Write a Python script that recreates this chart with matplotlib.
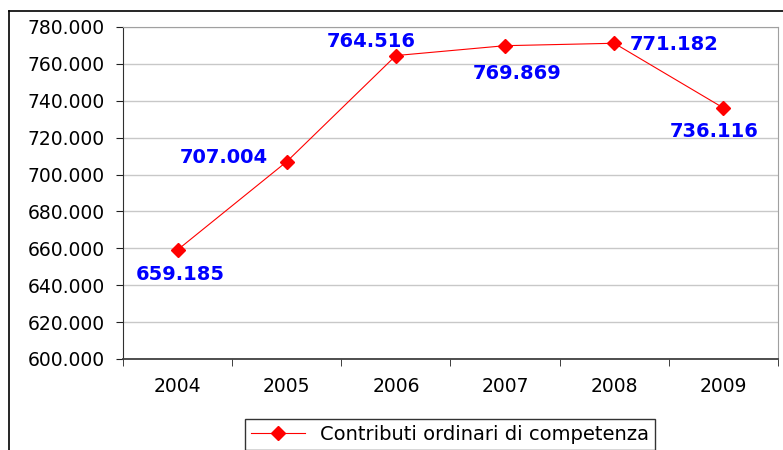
import matplotlib
matplotlib.use('Agg')
import matplotlib.pyplot as plt
from matplotlib.lines import Line2D
from matplotlib.ticker import FuncFormatter

years = ['2004', '2005', '2006', '2007', '2008', '2009']
values = [659185, 707004, 764516, 769869, 771182, 736116]
series_name = 'Contributi ordinari di competenza'
# label offsets in pixels from each point
label_offsets = [(3, -25), (-63, 4), (-25, 14), (12, -28), (60, -1), (-9, -24)]


def it_fmt(v, pos=None):
    return f"{int(round(v)):,}".replace(',', '.')


plt.rcParams['font.family'] = 'DejaVu Sans'

fig = plt.figure(figsize=(7.83, 4.5), dpi=100)
ax = fig.add_axes([123 / 783, 91 / 450, 655 / 783, 332 / 450])

x = list(range(len(years)))
ax.plot(x, values, color='#ff0000', linewidth=0.8, marker='D', markersize=7,
        label=series_name)

for xi, v, (dx, dy) in zip(x, values, label_offsets):
    ax.annotate(it_fmt(v), (xi, v), xytext=(dx, dy), textcoords='offset pixels',
                ha='center', va='center', fontsize=14, fontweight='bold',
                color='#0000ff')

ax.set_ylim(600000, 780000)
ax.set_yticks(range(600000, 780001, 20000))
ax.yaxis.set_major_formatter(FuncFormatter(it_fmt))
ax.set_xlim(-0.5, len(years) - 0.5)
ax.set_xticks(x)
ax.set_xticklabels(years)
ax.set_xticks([i - 0.5 for i in range(len(years) + 1)], minor=True)
ax.tick_params(axis='x', which='major', length=0, pad=13, labelsize=13.5)
ax.tick_params(axis='x', which='minor', length=5, direction='out', color='#202020')
ax.tick_params(axis='y', length=5, direction='out', pad=8, labelsize=13.5, color='#202020')

ax.grid(axis='y', color='#c8c8c8', linewidth=1)
ax.set_axisbelow(True)
ax.spines['left'].set_color('#303030')
ax.spines['bottom'].set_color('#404040')
ax.spines['bottom'].set_linewidth(1.3)
ax.spines['top'].set_color('#a0a0a0')
ax.spines['right'].set_color('#a0a0a0')

leg = fig.legend(loc='upper center', bbox_to_anchor=(450 / 783, 31 / 450),
                 bbox_transform=fig.transFigure, fontsize=14, frameon=True,
                 fancybox=False, edgecolor='black', handlelength=2.8,
                 borderpad=0.3, borderaxespad=0)
leg.get_frame().set_linewidth(1)

# outer chart frame
fig.add_artist(Line2D([9 / 783, 9 / 783], [0, 439 / 450], color='black', linewidth=1.2))
fig.add_artist(Line2D([9 / 783, 1], [439 / 450, 439 / 450], color='black', linewidth=1.2))

fig.savefig('out.png', dpi=100)
